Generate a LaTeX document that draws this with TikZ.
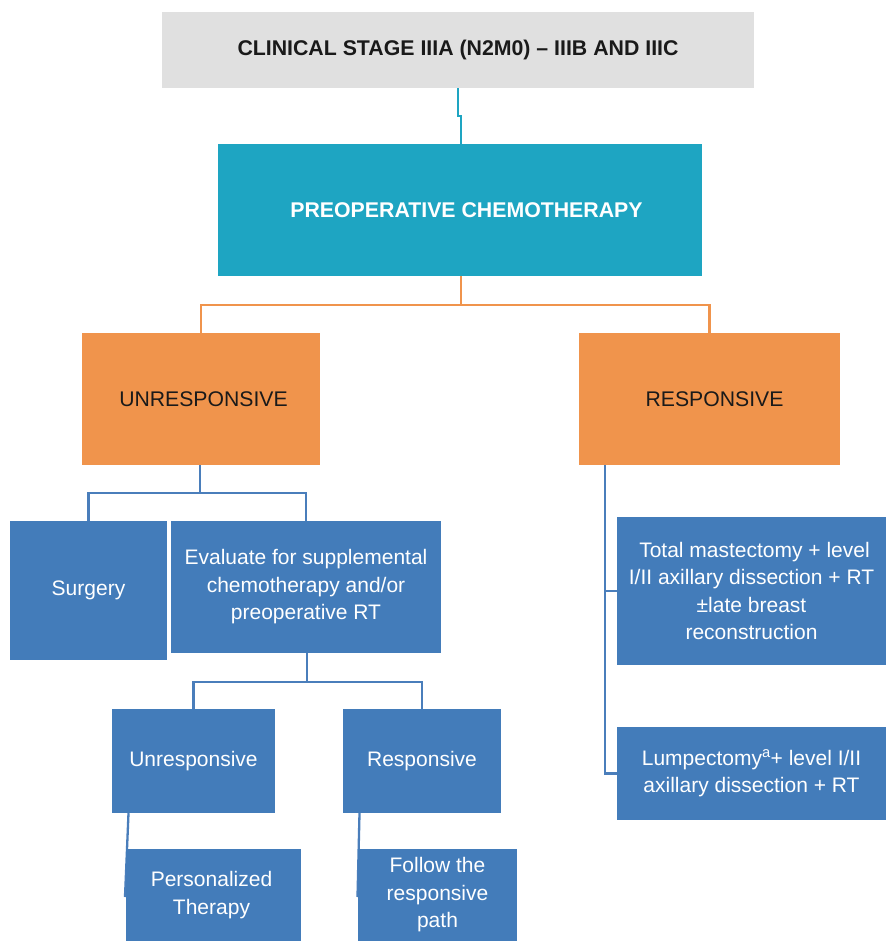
\documentclass[tikz,border=0pt]{standalone}
\usepackage{fontspec}
\setmainfont{Liberation Sans}
\usetikzlibrary{backgrounds}
\definecolor{greyfill}{HTML}{E0E0E0}
\definecolor{tealfill}{HTML}{1EA5C2}
\definecolor{orangefill}{HTML}{F0944C}
\definecolor{bluefill}{HTML}{437CBA}
\definecolor{blueline}{HTML}{4A7EBB}
\definecolor{darktext}{HTML}{1A1A1A}
\begin{document}
\begin{tikzpicture}[x=1pt,y=-1pt,
  base/.style={draw=none, inner sep=0pt, align=center, font=\fontsize{21}{27.5}\selectfont},
  greybox/.style={base, fill=greyfill, text=darktext, font=\fontsize{21.3}{27.5}\selectfont\bfseries},
  tealbox/.style={base, fill=tealfill, text=white, font=\fontsize{21.3}{27.5}\selectfont\bfseries},
  orangebox/.style={base, fill=orangefill, text=darktext, font=\fontsize{21.2}{27.5}\selectfont},
  bluebox/.style={base, fill=bluefill, text=white},
  tealconn/.style={draw=tealfill, line width=2.3pt},
  orangeconn/.style={draw=orangefill, line width=2.3pt},
  blueconn/.style={draw=blueline, line width=2.3pt}
]
\node[greybox, minimum width=592, minimum height=76] (top) at (458,50) {CLINICAL STAGE IIIA (N2M0) – IIIB AND IIIC};
\node[tealbox, minimum width=484, minimum height=132] (chemo) at (460,210) {\hspace*{13pt}PREOPERATIVE CHEMOTHERAPY};
\node[orangebox, minimum width=238, minimum height=132] (unresp) at (201,399) {\hspace*{5pt}UNRESPONSIVE};
\node[orangebox, minimum width=261, minimum height=132] (resp) at (709.5,399) {\hspace*{10pt}RESPONSIVE};
\node[bluebox, minimum width=157, minimum height=139] (surg) at (88.5,590.5) {Surgery};
\node[bluebox, minimum width=270, minimum height=132] (eval) at (306,587) {Evaluate for supplemental\\chemotherapy and/or\\preoperative RT};
\node[bluebox, minimum width=163, minimum height=104] (us) at (193.5,761) {Unresponsive};
\node[bluebox, minimum width=158, minimum height=104] (rs) at (422,761) {Responsive};
\node[bluebox, minimum width=175, minimum height=92] (pers) at (213.5,895) {Personalized\hspace*{4pt}\\Therapy\hspace*{4pt}};
\node[bluebox, minimum width=159, minimum height=92] (follow) at (437.5,895) {Follow the\\responsive\\path};
\node[bluebox, minimum width=269, minimum height=148] (mast) at (751.5,591) {\hspace*{6pt}Total mastectomy + level\\I/II axillary dissection + RT\\±late breast\\reconstruction};
\node[bluebox, minimum width=269, minimum height=93] (lump) at (751.5,773.5) {Lumpectomy\textsuperscript{a}+ level I/II\\axillary dissection + RT};
\begin{pgfonlayer}{background}
  \fill[white] (0,0) rectangle (887,941);
  \coordinate (j1) at (461,116);
  \draw[tealconn] (top.south) |- (j1) -- (j1 |- chemo.north);
  \coordinate (o) at (461,305);
  \draw[orangeconn] (chemo.south -| o) -- (o);
  \draw[orangeconn] (unresp.north) |- (o) -| (resp.north);
  \coordinate (u) at (200,493);
  \draw[blueconn] (unresp.south -| u) -- (u);
  \draw[blueconn] (surg.north) |- (u) -| (eval.north);
  \coordinate (e) at (307,682);
  \draw[blueconn] (eval.south -| e) -- (e);
  \draw[blueconn] (us.north) |- (e) -| (rs.north);
  \coordinate (p1) at ([xshift=-65]us.south);
  \coordinate (p2) at (125,897);
  \draw[blueconn] (p1) -- (p2);
  \coordinate (q1) at ([xshift=-62.5]rs.south);
  \coordinate (q2) at (357.5,897);
  \draw[blueconn] (q1) -- (q2);
  \coordinate (r) at (605,0);
  \draw[blueconn] (resp.south -| r) -- (r |- lump.center) -- (lump.west);
  \draw[blueconn] (r |- mast.center) -- (mast.west);
\end{pgfonlayer}
\end{tikzpicture}
\end{document}
